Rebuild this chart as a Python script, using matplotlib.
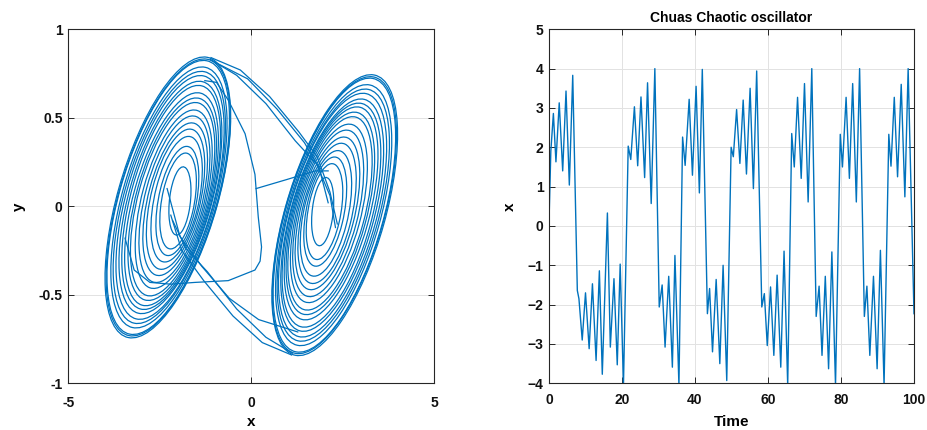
import matplotlib.pyplot as plt
from matplotlib.patches import Ellipse

plt.rcParams['font.family'] = ['Liberation Sans', 'DejaVu Sans']
plt.rcParams['font.weight'] = 'bold'

LINE_COLOR = '#0072bd'

# ---- phase portrait: scroll loops (data units) ----
# left scroll, inner -> outer
left_cx = [-1.95, -2.00, -2.02, -2.04, -2.07, -2.08, -2.10, -2.12, -2.15, -2.16, -2.18, -2.19, -2.21, -2.22, -2.24,
           -2.25, -2.27, -2.27, -2.28]
left_cy = [0.03, 0.03, 0.03, 0.04, 0.04, 0.04, 0.04, 0.04, 0.04, 0.04, 0.04, 0.05, 0.05, 0.05, 0.05,
           0.05, 0.05, 0.05, 0.05]
left_w = [0.62, 1.03, 1.21, 1.45, 1.65, 1.83, 2.01, 2.18, 2.39, 2.51, 2.66, 2.80, 2.92, 3.07, 3.19,
          3.30, 3.48, 3.53, 3.57]
left_h = [0.36, 0.48, 0.54, 0.61, 0.67, 0.72, 0.78, 0.83, 0.89, 0.93, 0.97, 1.02, 1.05, 1.10, 1.13,
          1.17, 1.22, 1.23, 1.25]
left_ang = [16, 16, 16, 16, 16.3, 16.4, 16.5, 16.5, 16.6, 16.6, 16.7, 16.7, 16.8, 16.8, 16.9,
            16.9, 17, 17, 17]

# right scroll, inner -> outer
right_cx = [1.95, 2.00, 2.02, 2.04, 2.07, 2.08, 2.10, 2.12, 2.15, 2.16, 2.18, 2.19, 2.21, 2.22, 2.24,
            2.25, 2.27, 2.27, 2.28]
right_cy = [-0.03, -0.03, -0.03, -0.04, -0.04, -0.04, -0.04, -0.04, -0.04, -0.04, -0.04, -0.05, -0.05, -0.05, -0.05,
            -0.05, -0.05, -0.05, -0.05]
right_w = [0.62, 1.03, 1.21, 1.45, 1.65, 1.83, 2.01, 2.18, 2.39, 2.51, 2.66, 2.80, 2.92, 3.07, 3.19,
           3.30, 3.48, 3.53, 3.57]
right_h = [0.36, 0.48, 0.54, 0.61, 0.67, 0.72, 0.78, 0.83, 0.89, 0.93, 0.97, 1.02, 1.05, 1.10, 1.13,
           1.17, 1.22, 1.23, 1.25]
right_ang = [16, 16, 16, 16, 16.3, 16.4, 16.5, 16.5, 16.6, 16.6, 16.7, 16.7, 16.8, 16.8, 16.9,
             16.9, 17, 17, 17]

# crossings between the two scrolls
start_run = [(0.13, 0.10), (0.95, 0.15), (1.75, 0.20), (2.10, 0.20)]
cross_bottom = [
    [(1.10, -0.84), (0.30, -0.77), (-0.50, -0.62), (-1.30, -0.42), (-1.90, -0.25), (-2.20, -0.05)],
    [(1.12, -0.83), (0.40, -0.74), (-0.40, -0.58), (-1.20, -0.37), (-1.78, -0.24), (-2.15, -0.08)],
    [(1.27, -0.71), (0.20, -0.64), (-0.60, -0.52), (-1.35, -0.34), (-1.95, -0.17), (-2.30, 0.10)],
]
cross_top = [
    [(-1.10, 0.84), (-0.30, 0.77), (0.50, 0.62), (1.30, 0.42), (1.80, 0.28), (2.15, 0.08), (2.35, -0.10)],
    [(-1.12, 0.83), (-0.40, 0.74), (0.40, 0.58), (1.20, 0.37), (1.78, 0.24), (2.15, 0.06), (2.30, -0.12)],
    [(-1.05, 0.82), (-0.10, 0.72), (0.70, 0.55), (1.45, 0.36), (1.85, 0.22), (2.10, 0.02)],
]
last_run = [(-1.27, 0.71), (-0.95, 0.70), (-0.63, 0.60), (-0.17, 0.41), (0.10, 0.18), (0.19, -0.06), (0.28, -0.23),
            (0.24, -0.31), (0.10, -0.36), (-0.63, -0.42), (-1.54, -0.43), (-2.20, -0.44), (-2.77, -0.43),
            (-3.20, -0.36), (-3.45, -0.18)]

# ---- time series x(t): turning points ----
time_pts = [0.0, 0.5, 1.2, 1.9, 2.8, 3.75, 4.66, 5.57, 6.5, 7.76, 8.2, 9.1, 10.0, 11.0, 11.9, 12.9, 13.8, 14.6,
            16.0, 16.8, 17.8, 18.7, 19.5, 20.4, 21.7, 22.4, 23.4, 24.3, 25.2, 26.2, 27.0, 28.0, 29.0, 30.2,
            31.0, 31.8, 32.8, 33.8, 34.5, 35.6, 36.6, 37.3, 38.4, 39.3, 40.3, 41.2, 42.0, 43.4, 44.0, 44.8,
            45.8, 46.8, 47.7, 48.7, 49.9, 50.5, 51.4, 52.3, 53.2, 54.1, 55.1, 56.0, 56.9, 58.3, 59.0, 59.8,
            60.7, 61.6, 62.5, 63.5, 64.4, 65.4, 66.5, 67.2, 68.1, 69.1, 70.0, 71.0, 72.0, 73.2, 74.0, 74.8,
            75.7, 76.6, 77.5, 78.5, 79.8, 80.4, 81.4, 82.3, 83.2, 84.2, 85.1, 86.4, 87.1, 87.9, 88.9, 89.9,
            90.8, 91.8, 93.1, 93.7, 94.6, 95.5, 96.5, 97.5, 98.4, 100.0]
x_pts = [0.10, 1.90, 2.86, 1.63, 3.13, 1.40, 3.43, 1.04, 3.83, -1.64, -1.85, -2.90, -1.70, -3.12, -1.47, -3.42, -1.14, -3.77,
         0.33, -3.08, -1.34, -3.53, -0.97, -4.05, 2.03, 1.69, 3.03, 1.53, 3.28, 1.23, 3.64, 0.57, 4.00, -2.06,
         -1.50, -3.08, -1.28, -3.59, -0.75, -4.05, 2.26, 1.54, 3.22, 1.29, 3.55, 0.84, 3.98, -2.23, -1.59, -3.20,
         -1.36, -3.50, -1.00, -3.93, 2.00, 1.76, 2.96, 1.59, 3.20, 1.32, 3.50, 0.95, 3.94, -2.06, -1.72, -3.04,
         -1.55, -3.29, -1.25, -3.59, -0.64, -4.05, 2.35, 1.50, 3.27, 1.21, 3.62, 0.61, 4.00, -2.30, -1.53, -3.29,
         -1.28, -3.63, -0.66, -4.05, 2.33, 1.50, 3.27, 1.21, 3.62, 0.61, 4.00, -2.30, -1.53, -3.29, -1.28, -3.63,
         -0.62, -4.05, 2.33, 1.52, 3.27, 1.25, 3.60, 0.74, 4.00, -2.23]


def style(ax):
    ax.grid(True, color='#e2e2e2', linewidth=0.7)
    ax.set_axisbelow(True)
    for s in ax.spines.values():
        s.set_color('#262626')
        s.set_linewidth(0.8)
    ax.tick_params(direction='in', top=True, right=True, length=4, width=0.7,
                   labelsize=10, color='#262626', labelcolor='#111111')


fig = plt.figure(figsize=(9.28, 4.3), dpi=100)

ax1 = fig.add_axes([0.0736, 0.1086, 0.3944, 0.8233])
for cx, cy, w, h, a in zip(left_cx, left_cy, left_w, left_h, left_ang):
    ax1.add_patch(Ellipse((cx, cy), w, h, angle=a, fill=False, edgecolor=LINE_COLOR, linewidth=0.9))
for cx, cy, w, h, a in zip(right_cx, right_cy, right_w, right_h, right_ang):
    ax1.add_patch(Ellipse((cx, cy), w, h, angle=a, fill=False, edgecolor=LINE_COLOR, linewidth=0.9))
for seg in [start_run, last_run] + cross_bottom + cross_top:
    ax1.plot([p[0] for p in seg], [p[1] for p in seg], color=LINE_COLOR, linewidth=0.9)
ax1.set_xlim(-5, 5)
ax1.set_ylim(-1, 1)
ax1.set_xticks([-5, 0, 5])
ax1.set_xticklabels(['-5', '0', '5'])
ax1.set_yticks([-1, -0.5, 0, 0.5, 1])
ax1.set_yticklabels(['-1', '-0.5', '0', '0.5', '1'])
style(ax1)
ax1.tick_params(axis='x', pad=9)
ax1.tick_params(axis='y', pad=4)
ax1.set_xlabel('x', fontsize=11, fontweight='bold', labelpad=4)
ax1.set_ylabel('y', fontsize=11, fontweight='bold', labelpad=9)

ax2 = fig.add_axes([0.5916, 0.1086, 0.3933, 0.8233])
ax2.plot(time_pts, x_pts, color=LINE_COLOR, linewidth=1.0)
ax2.set_xlim(0, 100)
ax2.set_ylim(-4, 5)
ax2.set_xticks([0, 20, 40, 60, 80, 100])
ax2.set_yticks(range(-4, 6))
style(ax2)
ax2.tick_params(axis='x', pad=7)
ax2.tick_params(axis='y', pad=4)
ax2.set_xlabel('Time', fontsize=11, fontweight='bold', labelpad=6)
ax2.set_ylabel('x', fontsize=11, fontweight='bold', labelpad=8)
ax2.set_title('Chuas Chaotic oscillator', fontsize=10, fontweight='bold', pad=5)

fig.savefig('out.png', dpi=100)
